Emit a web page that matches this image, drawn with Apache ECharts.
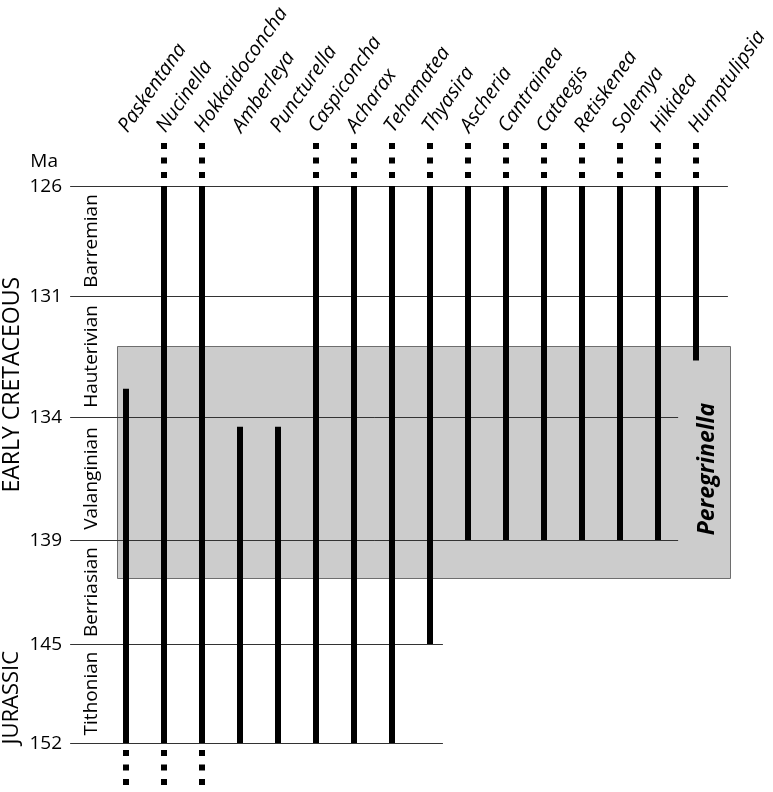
<!DOCTYPE html>
<html><head><meta charset="utf-8">
<script src="https://cdn.jsdelivr.net/npm/echarts@6/dist/echarts.min.js"></script>
<style>html,body{margin:0;padding:0;background:#fff}#chart{width:773px;height:792px}</style>
</head><body><div id="chart"></div>
<script>
// ---------------- data ----------------
const genera = ['Paskentana','Nucinella','Hokkaidoconcha','Amberleya','Puncturella','Caspiconcha','Acharax','Tehamatea','Thyasira','Ascheria','Cantrainea','Cataegis','Retiskenea','Solemya','Hikidea','Humptulipsia'];
const rangeTopMa  = [133.3,126,126,134.4,134.4,126,126,126,126,126,126,126,126,126,126,126];
const rangeBaseMa = [152,152,152,152,152,152,152,152,145,139,139,139,139,139,139,132.6];
const extendsAbove = [0,1,1,0,0,1,1,1,1,1,1,1,1,1,1,1];
const extendsBelow = [1,1,1,0,0,0,0,0,0,0,0,0,0,0,0,0];
const boundariesMa = [126,131,134,139,145,152];
const stageNames = ['Barremian','Hauterivian','Valanginian','Berriasian','Tithonian'];
const periodNames = ['EARLY CRETACEOUS','JURASSIC'];
const periodLabelMa = [133.2,148.8];
const peregrinellaName = 'Peregrinella';
const peregrinellaTopMa = 132.24;
const peregrinellaBaseMa = 141.2;
const unitLabel = 'Ma';

// ---------------- layout ----------------
const stageWeights = [110,121,123,104,99];          // relative drawn height of each stage band
const lineStartCat = -1.47;                          // boundary lines start (category units)
const lineEndCat = [15.84,15.84,14.53,14.53,8.34,8.34];
const rectLeftCat = -0.24, rectRightCat = 15.9;
const FONT = '"Open Sans", "DejaVu Sans", sans-serif';

const cum = [0];
stageWeights.forEach(w => cum.push(cum[cum.length-1] + w));
function maToPos(ma){
  for (let k = 0; k < boundariesMa.length - 1; k++){
    const a = boundariesMa[k], b = boundariesMa[k+1];
    if (ma <= b || k === boundariesMa.length - 2){
      return cum[k] + (ma - a) / (b - a) * stageWeights[k];
    }
  }
}

const chart = echarts.init(document.getElementById('chart'));

function catX(api, c, y){
  const x0 = api.coord([0, y])[0];
  const band = api.size([1, 0])[0];
  return x0 + c * band;
}

const option = {
  animation: false,
  grid: { left: 107, width: 608, top: 186, bottom: 49 },
  xAxis: { type: 'category', data: genera, show: false, boundaryGap: true },
  yAxis: { type: 'value', min: 0, max: cum[cum.length-1], inverse: true, show: false },
  series: [
    { // Peregrinella range box
      type: 'custom', z: 1, silent: true,
      data: [[0, maToPos(peregrinellaTopMa), maToPos(peregrinellaBaseMa)]],
      renderItem: function(params, api){
        const y1 = api.coord([0, api.value(1)])[1];
        const y2 = api.coord([0, api.value(2)])[1];
        const xl = catX(api, rectLeftCat, 0), xr = catX(api, rectRightCat, 0);
        const xm = catX(api, 15.3, 0);
        return { type: 'group', children: [
          { type: 'rect', shape: { x: Math.round(xl)+0.5, y: Math.round(y1)+0.5, width: Math.round(xr-xl), height: Math.round(y2-y1) },
            style: { fill: '#cccccc', stroke: '#6e6e6e', lineWidth: 1 } },
          { type: 'text', x: xm, y: (y1+y2)/2 + 7, rotation: Math.PI/2,
            style: { text: peregrinellaName, font: 'italic bold 23px ' + FONT, fill: '#000', align: 'center', verticalAlign: 'middle' } }
        ]};
      }
    },
    { // stage boundary lines + tick labels
      type: 'custom', z: 2, silent: true,
      data: boundariesMa.map((b, k) => [k, maToPos(b), b]),
      renderItem: function(params, api){
        const k = api.value(0);
        const y = Math.round(api.coord([0, api.value(1)])[1]) + 0.5;
        const xs = catX(api, lineStartCat, 0), xe = catX(api, lineEndCat[k], 0);
        return { type: 'group', children: [
          { type: 'line', shape: { x1: xs, y1: y, x2: xe, y2: y }, style: { stroke: '#333', lineWidth: 1 } },
          { type: 'text', x: 62, y: y, style: { text: String(api.value(2)), font: '19px ' + FONT, fill: '#000', align: 'right', verticalAlign: 'middle' } }
        ]};
      }
    },
    { // range bars
      type: 'custom', z: 3, silent: true,
      data: genera.map((g, i) => [i, maToPos(rangeTopMa[i]), maToPos(rangeBaseMa[i]), extendsAbove[i], extendsBelow[i]]),
      renderItem: function(params, api){
        const i = api.value(0);
        const t = api.coord([i, api.value(1)]);
        const b = api.coord([i, api.value(2)]);
        const x = Math.round(t[0]);
        const ch = [{ type: 'rect', shape: { x: x-3, y: t[1], width: 6, height: b[1]-t[1] }, style: { fill: '#000' } }];
        if (api.value(3)) ch.push({ type: 'line', shape: { x1: x, y1: t[1]-43, x2: x, y2: t[1]-6 }, style: { stroke: '#000', lineWidth: 6, lineDash: [6, 8.5], lineCap: 'butt' } });
        if (api.value(4)) ch.push({ type: 'line', shape: { x1: x, y1: b[1]+7, x2: x, y2: b[1]+44 }, style: { stroke: '#000', lineWidth: 6, lineDash: [6, 8.5], lineCap: 'butt' } });
        return { type: 'group', children: ch };
      }
    },
    { // genus labels
      type: 'custom', z: 4, silent: true,
      data: genera.map((g, i) => [i, 0]),
      renderItem: function(params, api){
        const i = api.value(0);
        const p = api.coord([i, 0]);
        return { type: 'text', x: p[0] + 5, y: p[1] - 50, rotation: 55 * Math.PI / 180,
          style: { text: genera[i], font: 'italic 20px ' + FONT, fill: '#000', align: 'left', verticalAlign: 'bottom' } };
      }
    },
    { // stage names
      type: 'custom', z: 4, silent: true,
      data: stageNames.map((s, k) => [k, (cum[k] + cum[k+1]) / 2]),
      renderItem: function(params, api){
        const k = api.value(0);
        const y = api.coord([0, api.value(1)])[1];
        return { type: 'text', x: 92, y: y, rotation: Math.PI/2,
          style: { text: stageNames[k], font: '19px ' + FONT, fill: '#000', align: 'center', verticalAlign: 'middle' } };
      }
    },
    { // period names + unit
      type: 'custom', z: 4, silent: true,
      data: periodNames.map((s, k) => [k, maToPos(periodLabelMa[k])]),
      renderItem: function(params, api){
        const k = api.value(0);
        const y = api.coord([0, api.value(1)])[1];
        const ch = [{ type: 'text', x: 12, y: y, rotation: Math.PI/2,
          style: { text: periodNames[k], font: (k === 0 ? '23px ' : '22px ') + FONT, fill: '#000', align: 'center', verticalAlign: 'middle' } }];
        if (k === 0) {
          const yt = api.coord([0, 0])[1];
          ch.push({ type: 'text', x: 58, y: yt - 24, style: { text: unitLabel, font: '19px ' + FONT, fill: '#000', align: 'right', verticalAlign: 'middle' } });
        }
        return { type: 'group', children: ch };
      }
    }
  ]
};
chart.setOption(option);
</script></body></html>
